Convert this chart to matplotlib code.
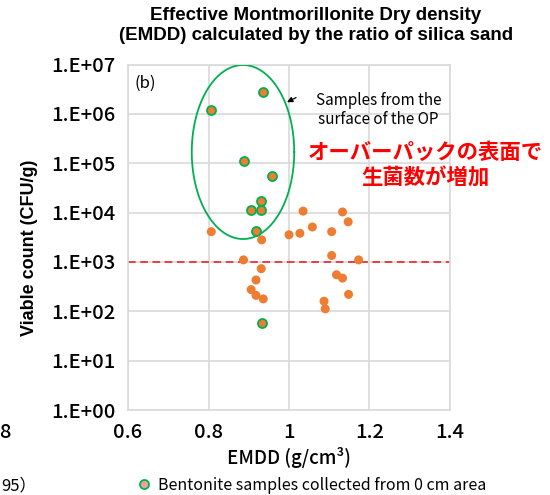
import numpy as np
import matplotlib.pyplot as plt
from matplotlib.lines import Line2D

plt.rcParams['font.family'] = ['Noto Sans CJK JP', 'DejaVu Sans']

# samples from the OP surface (green edge, inside the ellipse + one low point)
emdd_surface = [0.935, 0.807, 0.887, 0.958, 0.931, 0.906, 0.931, 0.918, 0.933]
count_surface = [2.8e6, 1.2e6, 1.12e5, 5.5e4, 1.7e4, 1.12e4, 1.12e4, 4.3e3, 58]

# other bentonite samples
emdd_other = [0.807, 0.932, 1.035, 1.0, 1.027, 1.058, 0.887, 0.931, 0.918, 0.906,
              0.918, 0.936, 1.133, 1.147, 1.106, 1.106, 1.173, 1.118, 1.133, 1.148,
              1.087, 1.09]
count_other = [4.1e3, 2.8e3, 1.07e4, 3.55e3, 3.8e3, 5.1e3, 1.1e3, 7.3e2, 4.3e2, 2.75e2,
               2.1e2, 1.78e2, 1.03e4, 6.5e3, 4.1e3, 1.35e3, 1.1e3, 5.5e2, 4.7e2, 2.2e2,
               1.6e2, 1.12e2]

threshold = 1e3
yticks = [1e0, 1e1, 1e2, 1e3, 1e4, 1e5, 1e6, 1e7]
ytick_labels = ['1.E+00', '1.E+01', '1.E+02', '1.E+03', '1.E+04', '1.E+05', '1.E+06', '1.E+07']
xticks = [0.6, 0.8, 1.0, 1.2, 1.4]
xtick_labels = ['0.6', '0.8', '1', '1.2', '1.4']

orange = '#ED7D31'
green = '#00B050'
grid_c = '#D9D9D9'

fig = plt.figure(figsize=(5.5, 4.95), dpi=100)
ax = fig.add_axes([128 / 550, 1 - 410 / 495, 322 / 550, 345.5 / 495])
ax.set_yscale('log')
ax.set_xlim(0.6, 1.4)
ax.set_ylim(1e0, 1e7)
ax.set_xticks(xticks)
ax.set_xticklabels(xtick_labels)
ax.set_yticks(yticks)
ax.set_yticklabels(ytick_labels)
ax.minorticks_off()
ax.tick_params(length=0, labelsize=14.5, pad=9)
for lab in ax.get_xticklabels() + ax.get_yticklabels():
    lab.set_fontweight('medium')
ax.grid(True, color=grid_c, linewidth=1.2)
ax.set_axisbelow(True)
for s in ax.spines.values():
    s.set_color(grid_c)
    s.set_linewidth(1.2)

ax.axhline(threshold, color='#E8151B', linestyle=(0, (5, 3)), linewidth=1.1, zorder=2)

ax.scatter(emdd_other, count_other, s=42, color=orange, edgecolors='none', zorder=3)
ax.scatter(emdd_surface, count_surface, s=42, color=orange, edgecolors=green,
           linewidths=1.3, zorder=4)

# ellipse around OP surface samples (drawn in log space)
t = np.linspace(0, 2 * np.pi, 300)
ex = 0.8857 + 0.1273 * np.cos(t)
ey = 10 ** (5.227 + 1.763 * np.sin(t))
ax.plot(ex, ey, color=green, linewidth=1.3, zorder=3)

ax.text(0.642, 10 ** 6.625, '(b)', fontsize=12, ha='center', va='center')

ax.annotate('', xy=(0.9951, 10 ** 6.236), xytext=(1.0175, 10 ** 6.33),
            arrowprops=dict(arrowstyle='-|>', color='black', lw=0.9,
                            mutation_scale=8, shrinkA=0, shrinkB=0))
ax.text(1.222, 10 ** 6.08, 'Samples from the\nsurface of the OP', fontsize=11,
        ha='center', va='center', linespacing=1.15)

ax.text(1.339, 10 ** 5.21, 'オーバーパックの表面で', fontsize=15.4, fontweight='bold',
        color='#FF0000', ha='center', va='center')
ax.text(1.339, 10 ** 4.70, '生菌数が増加', fontsize=15.4, fontweight='bold',
        color='#FF0000', ha='center', va='center')

fig.text(316 / 550, 1 - 16 / 495, 'Effective Montmorillonite Dry density',
         family='Liberation Sans', fontweight='bold', fontsize=13.5, ha='center', va='center')
fig.text(316 / 550, 1 - 35 / 495, '(EMDD) calculated by the ratio of silica sand',
         family='Liberation Sans', fontweight='bold', fontsize=13.5, ha='center', va='center')

fig.text(30 / 550, 1 - 248 / 495, 'Viable count (CFU/g)', family='Liberation Sans',
         fontweight='bold', fontsize=13, rotation=90, ha='center', va='center')
fig.text(289 / 550, 1 - 458 / 495, 'EMDD (g/cm³)', fontsize=13.5, fontweight='medium',
         ha='center', va='center')

# fragments of the neighbouring panel
fig.text(11 / 550, 1 - 432 / 495, '8', fontsize=14.5, fontweight='medium', ha='right', va='center')
fig.text(1 / 550, 1 - 486 / 495, '95）', fontsize=12, ha='left', va='center')

handle = Line2D([], [], linestyle='none', marker='o', markersize=6.5,
                markerfacecolor='#F4A09A', markeredgecolor=green, markeredgewidth=1.3)
fig.legend([handle], ['Bentonite samples collected from 0 cm area'],
           loc='center left', bbox_to_anchor=(136 / 550, 1 - 485 / 495), frameon=False,
           fontsize=11.5, handlelength=1.0, handletextpad=0.4, borderpad=0, borderaxespad=0)

fig.savefig('out.png', dpi=100)
